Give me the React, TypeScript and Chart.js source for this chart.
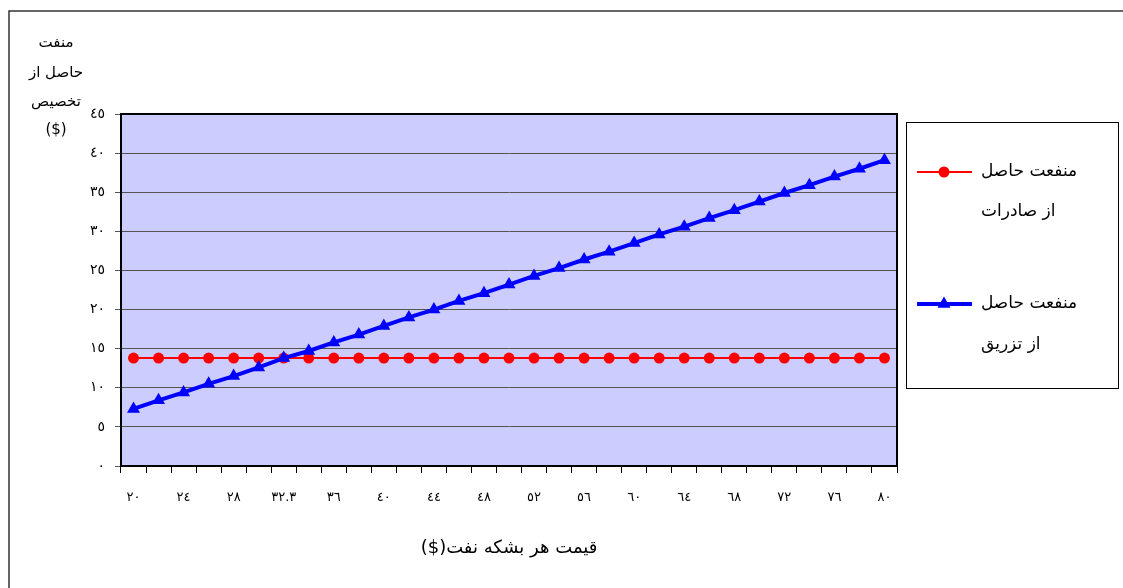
import React, { useEffect, useRef } from "react";
import { Chart, registerables } from "chart.js";

Chart.register(...registerables);

// Category (oil price per barrel, $) labels
const categories: string[] = [
  "٢٠", "٢٢", "٢٤", "٢٦", "٢٨", "٣٠", "٣٢.٣", "٣٤", "٣٦", "٣٨", "٤٠",
  "٤٢", "٤٤", "٤٦", "٤٨", "٥٠", "٥٢", "٥٤", "٥٦", "٥٨", "٦٠",
  "٦٢", "٦٤", "٦٦", "٦٨", "٧٠", "٧٢", "٧٤", "٧٦", "٧٨", "٨٠",
];

// Profit from exports ($)
const exportProfit: number[] = [
  13.8, 13.8, 13.8, 13.8, 13.8, 13.8, 13.8, 13.8, 13.8, 13.8, 13.8,
  13.8, 13.8, 13.8, 13.8, 13.8, 13.8, 13.8, 13.8, 13.8, 13.8,
  13.8, 13.8, 13.8, 13.8, 13.8, 13.8, 13.8, 13.8, 13.8, 13.8,
];

// Profit from injection ($)
const injectionProfit: number[] = [
  7.3, 8.4, 9.4, 10.5, 11.5, 12.6, 13.8, 14.7, 15.8, 16.8, 17.9,
  19.0, 20.0, 21.1, 22.1, 23.2, 24.3, 25.3, 26.4, 27.4, 28.5,
  29.6, 30.6, 31.7, 32.7, 33.8, 34.9, 35.9, 37.0, 38.0, 39.1,
];

const yTickLabels: string[] = ["٠", "٥", "١٠", "١٥", "٢٠", "٢٥", "٣٠", "٣٥", "٤٠", "٤٥"];

const seriesNames: string[][] = [
  ["منفعت حاصل", "از صادرات"],
  ["منفعت حاصل", "از تزریق"],
];
const yTitleLines: string[] = ["منفت", "حاصل از", "تخصیص", "($)"];
const xTitle = "قیمت هر بشکه نفت($)";

const FONT = "'DejaVu Sans', sans-serif";

const extrasPlugin = {
  id: "extras",
  beforeDraw(chart: any) {
    const { ctx, chartArea: a } = chart;
    ctx.save();
    ctx.fillStyle = "#FFFFFF";
    ctx.fillRect(0, 0, chart.width, chart.height);
    ctx.fillStyle = "#CCCCFF";
    ctx.fillRect(a.left, a.top, a.right - a.left, a.bottom - a.top);
    ctx.restore();
  },
  afterDraw(chart: any) {
    const { ctx, chartArea: a } = chart;
    ctx.save();
    // plot border
    ctx.strokeStyle = "#000";
    ctx.lineWidth = 2;
    ctx.strokeRect(a.left, a.top, a.right - a.left, a.bottom - a.top);

    // outer frame
    ctx.strokeStyle = "#333";
    ctx.lineWidth = 1.5;
    ctx.beginPath();
    ctx.moveTo(9, chart.height);
    ctx.lineTo(9, 11);
    ctx.lineTo(chart.width, 11);
    ctx.stroke();

    ctx.direction = "rtl";
    // y title
    ctx.fillStyle = "#000";
    ctx.font = `15px ${FONT}`;
    ctx.textAlign = "center";
    ctx.textBaseline = "middle";
    const ys = [43, 73, 102, 130];
    yTitleLines.forEach((t, i) => ctx.fillText(t, 56, ys[i]));

    // x title
    ctx.font = `18px ${FONT}`;
    ctx.fillText(xTitle, (a.left + a.right) / 2, 548);

    // legend box
    ctx.fillStyle = "#FFFFFF";
    ctx.fillRect(906, 122, 212, 266);
    ctx.strokeStyle = "#000";
    ctx.lineWidth = 1;
    ctx.strokeRect(906.5, 122.5, 212, 266);

    const ds = chart.data.datasets;
    const rows = [
      { y: 172, y2: 212 },
      { y: 304, y2: 345 },
    ];
    rows.forEach((r, i) => {
      const d = ds[i];
      ctx.strokeStyle = d.borderColor;
      ctx.lineWidth = d.borderWidth;
      ctx.beginPath();
      ctx.moveTo(917, r.y);
      ctx.lineTo(972, r.y);
      ctx.stroke();
      ctx.fillStyle = d.backgroundColor;
      if (d.pointStyle === "triangle") {
        const rr = 7.5;
        ctx.beginPath();
        ctx.moveTo(944, r.y - rr);
        ctx.lineTo(944 + rr * 0.866, r.y + rr * 0.5);
        ctx.lineTo(944 - rr * 0.866, r.y + rr * 0.5);
        ctx.closePath();
        ctx.fill();
      } else {
        ctx.beginPath();
        ctx.arc(944, r.y, 5.5, 0, Math.PI * 2);
        ctx.fill();
      }
      ctx.fillStyle = "#000";
      ctx.font = `17px ${FONT}`;
      ctx.textAlign = "left";
      ctx.textBaseline = "middle";
      ctx.fillText(seriesNames[i][0], 981, r.y);
      ctx.fillText(seriesNames[i][1], 981, r.y2);
    });
    ctx.restore();
  },
};

export default function App() {
  const ref = useRef<HTMLCanvasElement | null>(null);
  useEffect(() => {
    if (!ref.current) return;
    const chart = new Chart(ref.current, {
      type: "line",
      data: {
        labels: categories,
        datasets: [
          {
            label: seriesNames[0].join(" "),
            data: exportProfit,
            borderColor: "#FF0000",
            backgroundColor: "#FF0000",
            borderWidth: 2,
            pointStyle: "circle",
            pointRadius: 5.5,
            pointBorderWidth: 0,
            order: 2,
          },
          {
            label: seriesNames[1].join(" "),
            data: injectionProfit,
            borderColor: "#0000FF",
            backgroundColor: "#0000FF",
            borderWidth: 4,
            pointStyle: "triangle",
            pointRadius: 7.5,
            pointBorderWidth: 0,
            order: 1,
          },
        ] as any,
      },
      options: {
        animation: false,
        responsive: false,
        devicePixelRatio: 1,
        layout: { padding: { left: 0, top: 114, right: 226, bottom: 0 } },
        plugins: { legend: { display: false }, tooltip: { enabled: false } },
        scales: {
          x: {
            offset: true,
            grid: { offset: true, drawOnChartArea: false, drawTicks: true, tickLength: 7, color: "#000" },
            border: { color: "#000", width: 2 },
            ticks: {
              autoSkip: false,
              maxRotation: 0,
              padding: 17,
              color: "#000",
              font: { family: FONT, size: 13 },
              callback: (_v: any, i: number) => (i % 2 === 0 ? categories[i] : ""),
            },
            afterFit: (s: any) => {
              s.height = 122;
            },
          },
          y: {
            min: 0,
            max: 45,
            ticks: {
              stepSize: 5,
              padding: 10,
              color: "#000",
              font: { family: FONT, size: 14 },
              callback: (v: any) => yTickLabels[Math.round(Number(v) / 5)],
            },
            grid: { color: "#555", lineWidth: 1, tickLength: 6 },
            border: { color: "#000", width: 2 },
            afterFit: (s: any) => {
              s.width = 121;
            },
          },
        },
      },
      plugins: [extrasPlugin],
    });
    return () => chart.destroy();
  }, []);
  return (
    <div style={{ position: "absolute", left: 0, top: 0, width: 1123, height: 588 }}>
      <canvas ref={ref} width={1123} height={588} style={{ display: "block" }} />
    </div>
  );
}
